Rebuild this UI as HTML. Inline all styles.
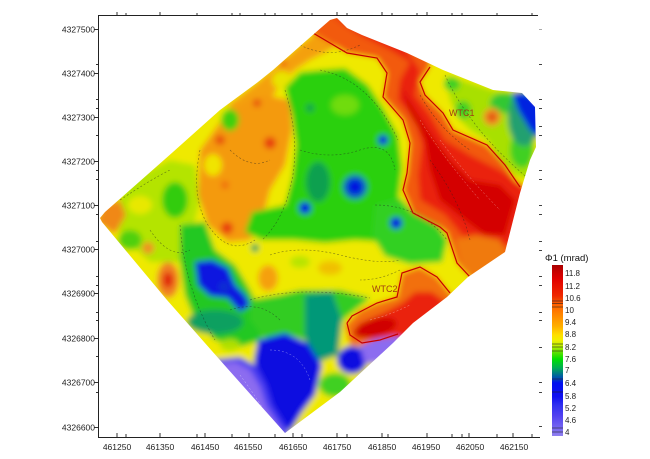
<!DOCTYPE html>
<html><head><meta charset="utf-8"><style>
html,body{margin:0;padding:0;background:#fff;}
svg{display:block;}
text{font-family:"Liberation Sans",sans-serif;}
</style></head><body>
<svg width="650" height="459" viewBox="0 0 650 459" xmlns="http://www.w3.org/2000/svg">
<defs>
<clipPath id="c"><polygon points="337,18 347,28 362,35 382,43 407,53 443,70 493,90 522,93 535,107 536,147 530,160 520,193 505,252 468,277 447,297 413,323 393,343 340,392 285,433 227,368 167,300 102,222 100,218 105,212 173,152 220,110 258,82 273,70 307,40 330,20"/></clipPath>
<filter id="b" x="-10%" y="-10%" width="120%" height="120%"><feGaussianBlur stdDeviation="2.8"/></filter>
<linearGradient id="lg" x1="0" y1="0" x2="0" y2="1">
<stop offset="0" stop-color="#a80000"/><stop offset="0.04" stop-color="#c80000"/><stop offset="0.08" stop-color="#e00000"/>
<stop offset="0.18" stop-color="#f02800"/><stop offset="0.2" stop-color="#f04000"/><stop offset="0.23" stop-color="#ff6000"/>
<stop offset="0.3" stop-color="#ff8c00"/><stop offset="0.36" stop-color="#ffb000"/><stop offset="0.41" stop-color="#ffe000"/>
<stop offset="0.44" stop-color="#f0f000"/><stop offset="0.48" stop-color="#b0f000"/><stop offset="0.51" stop-color="#60e000"/>
<stop offset="0.55" stop-color="#00e000"/><stop offset="0.6" stop-color="#00b050"/><stop offset="0.63" stop-color="#008080"/>
<stop offset="0.66" stop-color="#0050b0"/><stop offset="0.69" stop-color="#0010f0"/><stop offset="0.77" stop-color="#1010f0"/>
<stop offset="0.82" stop-color="#3030f0"/><stop offset="0.88" stop-color="#5040f0"/><stop offset="0.94" stop-color="#7060f0"/>
<stop offset="1" stop-color="#9080f0"/>
</linearGradient>
</defs>

<!-- MAP -->
<g clip-path="url(#c)">
<g filter="url(#b)">
<rect x="90" y="10" width="460" height="430" fill="#efe900"/>
<!-- NW light green -->
<polygon points="130,180 170,160 195,165 200,200 190,240 180,262 150,262 125,240 110,215" fill="#b4e400"/>
<ellipse cx="140" cy="205" rx="12" ry="9" fill="#e8e800"/>
<!-- NW orange -->
<polygon points="258,82 300,45 320,30 335,20 345,35 330,50 310,60 295,70 280,85 270,100 262,125 255,135 240,130 228,105" fill="#f4a010"/>
<polygon points="200,150 225,115 250,100 265,95 290,100 292,130 285,165 270,190 262,220 250,240 228,242 208,225 198,195" fill="#f49a10"/>
<ellipse cx="282" cy="80" rx="10" ry="9" fill="#e8e400"/>
<polygon points="96,222 104,204 120,200 126,215 115,234" fill="#f08818"/>
<ellipse cx="213" cy="165" rx="9" ry="11" fill="#f0e400"/>
<ellipse cx="230" cy="120" rx="9" ry="11" fill="#40d010"/>
<ellipse cx="175" cy="200" rx="13" ry="18" fill="#30cc10"/>
<ellipse cx="130" cy="240" rx="12" ry="10" fill="#50d010"/>
<!-- green strip left -->
<polygon points="180,225 205,222 215,250 235,265 250,290 262,315 262,340 240,347 215,340 195,320 185,295 180,260" fill="#22c820"/>
<ellipse cx="215" cy="322" rx="28" ry="12" fill="#10a060"/>
<polygon points="195,262 212,260 228,268 235,285 245,295 250,305 240,312 228,298 210,296 198,285" fill="#0818e0"/>
<circle cx="224" cy="287" r="5" fill="#1030d0"/>
<ellipse cx="230" cy="345" rx="10" ry="6" fill="#b0e000"/>
<!-- orange spots left -->
<ellipse cx="168" cy="280" rx="11" ry="18" fill="#f08020"/>
<ellipse cx="168" cy="280" rx="5" ry="8" fill="#e02010"/>
<circle cx="148" cy="248" r="6" fill="#f09020"/>
<ellipse cx="268" cy="278" rx="10" ry="13" fill="#f5a010"/>
<circle cx="288" cy="313" r="7" fill="#f08020"/>
<circle cx="288" cy="313" r="3" fill="#d83010"/>
<ellipse cx="330" cy="268" rx="12" ry="7" fill="#f0c000"/>
<ellipse cx="300" cy="262" rx="10" ry="6" fill="#b8e400"/>
<!-- centre big green -->
<polygon points="285,88 300,72 320,70 345,68 368,85 383,108 398,135 402,168 398,200 407,232 385,242 355,240 325,243 295,240 262,240 245,232 252,212 285,205 292,178 296,145 292,115" fill="#2cd010"/>
<ellipse cx="345" cy="105" rx="14" ry="10" fill="#70dc10"/>
<ellipse cx="318" cy="182" rx="12" ry="20" fill="#10a050"/>
<circle cx="355" cy="187" r="12" fill="#1060c0"/>
<circle cx="355" cy="187" r="7" fill="#0010e0"/>
<circle cx="305" cy="208" r="6" fill="#0010e0"/>
<circle cx="383" cy="140" r="5" fill="#0010e0"/>
<circle cx="395" cy="223" r="6" fill="#0020e0"/>
<circle cx="255" cy="248" r="4" fill="#10a060"/>
<circle cx="310" cy="108" r="4" fill="#10a050"/>
<!-- red spots NW -->
<circle cx="270" cy="143" r="6" fill="#e84010"/>
<circle cx="220" cy="140" r="5" fill="#e85010"/>
<circle cx="227" cy="228" r="6" fill="#e84010"/>
<circle cx="225" cy="185" r="4" fill="#f07010"/>
<circle cx="257" cy="103" r="4" fill="#e85010"/>
<circle cx="283" cy="63" r="4" fill="#f07010"/>
<!-- right green -->
<polygon points="375,205 400,198 412,212 438,226 447,240 442,262 410,264 385,256 372,235" fill="#30d020"/>
<circle cx="396" cy="223" r="6" fill="#0010e0"/>
<!-- lower green/teal -->
<polygon points="250,300 280,295 300,290 340,290 370,298 345,318 330,338 320,345 290,335 265,340 250,320" fill="#30cc20"/>
<polygon points="305,295 332,292 342,320 338,355 318,362 305,340" fill="#009878"/>
<ellipse cx="335" cy="385" rx="16" ry="12" fill="#40d020"/>
<!-- bottom blue -->
<polygon points="258,340 285,333 308,343 322,365 315,395 302,412 290,432 268,410 258,385 254,360" fill="#1010e0"/>
<polygon points="212,360 240,357 256,366 266,385 272,405 286,428 292,442 205,442 198,370" fill="#4a3cf0"/>
<polygon points="215,364 236,362 250,370 260,387 266,406 280,428 286,440 208,440 202,372" fill="#8c6cf0"/>
<ellipse cx="352" cy="360" rx="15" ry="14" fill="#1010e0"/>
<!-- NE -->
<polygon points="445,75 493,90 522,93 535,140 530,180 515,175 500,160 487,140 470,130 460,120 450,100" fill="#a8e000"/>
<ellipse cx="452" cy="84" rx="8" ry="7" fill="#40d020"/>
<ellipse cx="463" cy="110" rx="8" ry="9" fill="#40d020"/>
<ellipse cx="505" cy="103" rx="15" ry="10" fill="#30c830"/>
<ellipse cx="522" cy="150" rx="12" ry="18" fill="#40d020"/>
<ellipse cx="524" cy="118" rx="16" ry="28" fill="#20a070"/>
<polygon points="512,92 530,95 542,105 542,140 530,130 518,110" fill="#0020e0"/>
<circle cx="492" cy="117" r="9" fill="#f09020"/>
<circle cx="492" cy="117" r="4" fill="#e04010"/>
<!-- red band -->
<polygon points="300,25 313,33 347,53 377,58 387,73 383,97 403,120 410,143 407,173 403,190 413,213 440,227 447,233 457,263 470,277 480,290 545,290 545,190 520,187 505,165 487,145 453,130 443,113 425,95 420,82 430,67 430,40 340,0 300,0" fill="#f25a0c"/>
<polygon points="330,15 360,35 390,50 410,62 400,80 398,100 415,120 422,145 418,175 420,200 445,215 462,235 480,245 520,245 530,190 500,170 470,155 445,140 430,115 415,95 420,70 400,40" fill="#ea2010"/>
<polygon points="400,85 415,110 435,140 450,160 470,180 500,185 515,200 505,235 485,235 465,220 440,200 430,170 425,140 410,115" fill="#d40000"/>
<polygon points="455,240 475,235 500,240 510,262 480,280 462,270" fill="#f07a10"/>
<!-- WTC2 red -->
<polygon points="345,325 360,310 377,303 397,297 402,273 420,267 437,277 450,293 460,300 400,350 350,345" fill="#f27010"/>
<polygon points="358,324 385,312 402,303 415,292 432,292 447,303 400,342 360,338" fill="#ea2010"/>
<ellipse cx="375" cy="328" rx="22" ry="9" transform="rotate(-15 375 328)" fill="#d00000"/>
<polygon points="360,346 375,339 395,336 408,340 385,362 365,364" fill="#8c6cf0"/>
</g>
<!-- contour lines -->
<g fill="none" stroke="#222" stroke-width="0.6" stroke-dasharray="2,2" opacity="0.55">
<path d="M285,90 Q300,140 292,180 T262,240"/>
<path d="M200,150 Q190,200 210,228 T255,240"/>
<path d="M320,70 Q370,80 398,140"/>
<path d="M250,300 Q300,285 370,298"/>
<path d="M180,225 Q185,290 215,340"/>
<path d="M445,75 Q470,130 530,180"/>
<path d="M375,205 Q420,205 447,240"/>
<path d="M120,200 Q150,180 170,170"/>
<path d="M150,230 Q170,260 190,250"/>
<path d="M230,150 Q250,170 270,160"/>
<path d="M300,150 Q330,160 360,150 T395,170"/>
<path d="M270,255 Q300,245 340,255 T400,260"/>
<path d="M230,310 Q260,300 280,320"/>
<path d="M400,270 Q380,280 360,280"/>
<path d="M300,45 Q330,60 360,45"/>
<path d="M430,160 Q460,200 470,240"/>
<path d="M420,95 Q440,130 470,150"/>
</g>
<g fill="none" stroke="#fff" stroke-width="0.5" stroke-dasharray="2,2" opacity="0.5">
<path d="M420,120 Q445,160 480,200"/>
<path d="M440,140 Q470,180 500,210"/>
<path d="M270,350 Q300,350 310,380"/>
<path d="M240,375 Q255,395 270,420"/>
<path d="M370,320 Q390,315 410,305"/>
</g>
<g fill="none" stroke="#c80000" stroke-width="1.2">
<polyline points="313,33 347,53 377,58 387,73 383,97 403,120 410,143 407,173 403,190 413,213 440,227 447,233 457,263 470,277"/>
<polyline points="430,67 420,82 425,95 443,113 453,130 487,145 505,165 520,187"/>
<polyline points="347,323 352,316 377,303 397,297 402,273 420,267 437,277 450,293"/>
<polyline points="347,323 350,335 362,343 380,340 398,334"/>
</g>
<text x="449" y="116" font-family="Liberation Serif,serif" font-size="9" fill="#a04010">WTC1</text>
<text x="372" y="292" font-family="Liberation Serif,serif" font-size="9" fill="#a04010">WTC2</text>
</g>

<!-- AXES -->
<g stroke="#222" stroke-width="1" fill="none">
<line x1="98" y1="15.5" x2="538" y2="15.5"/>
<line x1="98.5" y1="15" x2="98.5" y2="438"/>
<line x1="98" y1="437.5" x2="540" y2="437.5"/>
</g>
<g stroke="#333" stroke-width="1">
<path d="M117,12V15M126,13V15M160,12V15M197,13V15M232,13V15M240,13V15M265,13V15M275,13V15M302,13V15M312,13V15M337,12V15M347,13V15M382,12V15M392,13V15M417,13V15M427,12V15M452,13V15M462,13V15M497,13V15M532,13V15"/>
<path d="M117,437V433M126,437V434M160,437V433M197,437V434M205,437V433M232,437V434M249,437V433M275,437V434M293,437V433M302,437V434M337,437V433M347,437V434M382,437V433M388,437V434M427,437V433M452,437V434M462,437V434M469,437V433M497,437V434M513,437V433M532,437V434"/>
<path d="M94,29.5H98M94,73.5H98M94,117.5H98M94,161.5H98M94,205.5H98M94,249.5H98M94,293.5H98M94,338.5H98M94,382.5H98M94,427.5H98"/>
<path d="M96,64.5H98M96,99.5H98M96,108.5H98M96,135.5H98M96,170.5H98M96,179.5H98M96,214.5H98M96,241.5H98M96,276.5H98M96,285.5H98M96,312.5H98M96,320.5H98M96,356.5H98M96,392.5H98"/>
</g>
<g stroke="#444" stroke-width="1">
<path d="M539,64.5H542M539,99.5H542M539,108.5H542M539,126.5H542M539,135.5H542M539,170.5H542M539,179.5H542M539,205.5H542M539,214.5H542M539,241.5H542M539,250.5H542M539,276.5H542M539,285.5H542M539,312.5H542M539,320.5H542M539,347.5H542M539,382.5H542M539,392.5H542M539,426.5H542"/>
<path d="M539,29.5H542" stroke="#aaa"/>
</g>
<g font-size="8.5" fill="#222" text-anchor="end">
<text x="95" y="32.5">4327500</text>
<text x="95" y="76.5">4327400</text>
<text x="95" y="120.5">4327300</text>
<text x="95" y="164.5">4327200</text>
<text x="95" y="208.5">4327100</text>
<text x="95" y="252.5">4327000</text>
<text x="95" y="296.5">4326900</text>
<text x="95" y="341.5">4326800</text>
<text x="95" y="385.5">4326700</text>
<text x="95" y="430.5">4326600</text>
</g>
<g font-size="8.5" fill="#222" text-anchor="middle">
<text x="117" y="450">461250</text>
<text x="160" y="450">461350</text>
<text x="205" y="450">461450</text>
<text x="248" y="450">461550</text>
<text x="293" y="450">461650</text>
<text x="337" y="450">461750</text>
<text x="382" y="450">461850</text>
<text x="426" y="450">461950</text>
<text x="470" y="450">462050</text>
<text x="514" y="450">462150</text>
</g>

<!-- LEGEND -->
<text x="545" y="261" font-size="9.5" fill="#111">Φ1 (mrad)</text>
<rect x="552" y="265" width="11" height="171" fill="url(#lg)"/>
<g stroke="#222" stroke-width="0.7" opacity="0.75">
<path d="M552,301H563M552,303.5H563M552,307H563M552,344H563M552,347H563M552,351H563M552,379H563M552,392H563M552,428H563M552,432H563"/>
</g>
<g font-size="8" fill="#222">
<text x="565" y="276">11.8</text>
<text x="565" y="289">11.2</text>
<text x="565" y="301">10.6</text>
<text x="565" y="313">10</text>
<text x="565" y="325">9.4</text>
<text x="565" y="337">8.8</text>
<text x="565" y="350">8.2</text>
<text x="565" y="362">7.6</text>
<text x="565" y="373">7</text>
<text x="565" y="386">6.4</text>
<text x="565" y="399">5.8</text>
<text x="565" y="411">5.2</text>
<text x="565" y="423">4.6</text>
<text x="565" y="435">4</text>
</g>
</svg>
</body></html>
